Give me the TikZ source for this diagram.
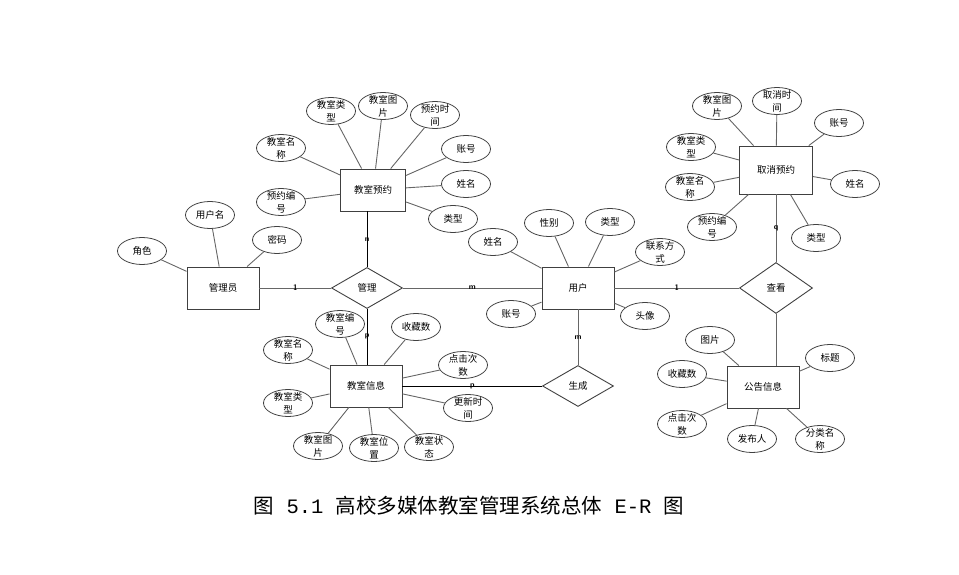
\documentclass[tikz,border=0pt]{standalone}
\usepackage{fontspec}
\newfontfamily\cjk{Noto Sans CJK SC}
\newfontfamily\mono{Liberation Mono}
\usetikzlibrary{shapes.geometric}

\begin{document}
\begin{tikzpicture}[x=1pt, y=-1pt,
    every node/.style={font=\cjk\fontsize{9.5}{13}\selectfont},
    entity/.style={draw=black!75, line width=0.9pt, minimum width=72pt, minimum height=42pt, inner sep=0pt},
    relation/.style={diamond, draw=black!75, line width=0.9pt, minimum width=71pt, minimum height=41pt, inner sep=0pt},
    attr/.style={ellipse, draw=black!75, line width=0.8pt, minimum width=49pt, minimum height=27pt, inner xsep=0pt, inner ysep=-4pt, align=center},
    card/.style={font=\sffamily\bfseries\fontsize{8}{8}\selectfont, text=black, inner sep=0pt},
    link/.style={black!60, line width=0.9pt}]
  \useasboundingbox (0,0) rectangle (959,575);

  % entities and relations
  \node[entity] (admin) at (223,288) {管理员};
  \node[entity, minimum width=65pt] (booking) at (373,190) {教室预约};
  \node[entity] (user) at (578,288) {用户};
  \node[entity, minimum width=73pt, minimum height=48pt] (cancel) at (776,170) {取消预约};
  \node[entity] (room) at (366,386) {教室信息};
  \node[entity] (notice) at (763,387) {公告信息};
  \node[relation] (manage) at (367,288) {管理};
  \node[relation] (create) at (578,386) {生成};
  \node[relation, minimum width=73pt, minimum height=51pt] (view) at (776,288) {查看};

  \draw[link] (admin) -- node[card] {1} (manage);
  \draw[link] (manage) -- node[card] {m} (user);
  \draw[link, black] (manage.north) -- node[card] {n} (manage.north |- booking.south);
  \draw[link, black] (manage.south) -- node[card] {p} (manage.south |- room.north);
  \draw[link] (user.south) -- node[card] {m} (create.north);
  \draw[link, black] (create) -- node[card] {p} (room);
  \draw[link] (user) -- node[card] {1} (view);
  \draw[link] (view) -- node[card] {q} (cancel);
  \draw[link] (view.south) -- (view.south |- notice.north);

  % admin
  \node[attr] (ad1) at (142,251) {角色};
  \node[attr] (ad2) at (210,215) {用户名};
  \node[attr] (ad3) at (277,240) {密码};
  \draw[link] (ad1) -- (admin) (ad2) -- (admin) (ad3) -- (admin);

  % booking
  \node[attr] (bk1) at (281,148) {教室名\\称};
  \node[attr] (bk2) at (281,202) {预约编\\号};
  \node[attr] (bk3) at (331,111) {教室类\\型};
  \node[attr] (bk4) at (383,106) {教室图\\片};
  \node[attr] (bk5) at (435,115) {预约时\\间};
  \node[attr] (bk6) at (466,149) {账号};
  \node[attr] (bk7) at (466,184) {姓名};
  \node[attr] (bk8) at (453,219) {类型};
  \draw[link] (bk1) -- (booking) (bk2) -- (booking) (bk3) -- (booking) (bk4) -- (booking);
  \draw[link] (bk5) -- (booking) (bk6) -- (booking) (bk7) -- (booking) (bk8) -- (booking);

  % user
  \node[attr] (us1) at (493,242) {姓名};
  \node[attr] (us2) at (549,223) {性别};
  \node[attr] (us3) at (610,222) {类型};
  \node[attr] (us4) at (660,252) {联系方\\式};
  \node[attr] (us5) at (511,314) {账号};
  \node[attr] (us6) at (645,316) {头像};
  \draw[link] (us1) -- (user) (us2) -- (user) (us3) -- (user);
  \draw[link] (us4) -- (user) (us5) -- (user) (us6) -- (user);

  % cancel
  \node[attr] (cc1) at (717,106) {教室图\\片};
  \node[attr] (cc2) at (777,101) {取消时\\间};
  \node[attr] (cc3) at (839,123) {账号};
  \node[attr] (cc4) at (691,147) {教室类\\型};
  \node[attr] (cc5) at (690,187) {教室名\\称};
  \node[attr] (cc6) at (855,184) {姓名};
  \node[attr] (cc7) at (712,227) {预约编\\号};
  \node[attr] (cc8) at (816,238) {类型};
  \draw[link] (cc1) -- (cancel) (cc2) -- (cancel) (cc3) -- (cancel) (cc4) -- (cancel);
  \draw[link] (cc5) -- (cancel) (cc6) -- (cancel) (cc7) -- (cancel) (cc8) -- (cancel);

  % room
  \node[attr] (rm1) at (340,324) {教室编\\号};
  \node[attr] (rm2) at (416,327) {收藏数};
  \node[attr] (rm3) at (288,350) {教室名\\称};
  \node[attr] (rm4) at (463,365) {点击次\\数};
  \node[attr] (rm5) at (288,403) {教室类\\型};
  \node[attr] (rm6) at (468,408) {更新时\\间};
  \node[attr] (rm7) at (318,446) {教室图\\片};
  \node[attr] (rm8) at (374,448) {教室位\\置};
  \node[attr] (rm9) at (429,447) {教室状\\态};
  \draw[link] (rm1) -- (room) (rm2) -- (room) (rm3) -- (room) (rm4) -- (room) (rm5) -- (room);
  \draw[link] (rm6) -- (room) (rm7) -- (room) (rm8) -- (room) (rm9) -- (room);

  % notice
  \node[attr] (nt1) at (710,340) {图片};
  \node[attr] (nt2) at (830,358) {标题};
  \node[attr] (nt3) at (682,374) {收藏数};
  \node[attr] (nt4) at (682,424) {点击次\\数};
  \node[attr] (nt5) at (752,439) {发布人};
  \node[attr] (nt6) at (820,439) {分类名\\称};
  \draw[link] (nt1) -- (notice) (nt2) -- (notice) (nt3) -- (notice);
  \draw[link] (nt4) -- (notice) (nt5) -- (notice) (nt6) -- (notice);

  \node[font=\cjk\fontsize{20.5}{24}\selectfont] (caption) at (469,506)
    {图{\mono\ 5.1\ }高校多媒体教室管理系统总体{\mono\ E-R\ }图};
\end{tikzpicture}
\end{document}
